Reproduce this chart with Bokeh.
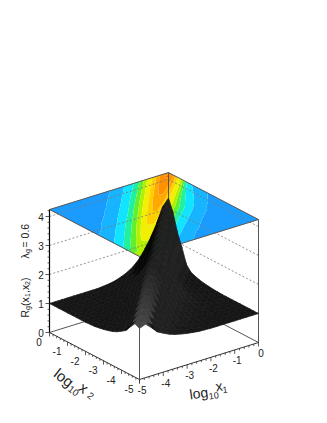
from bokeh.plotting import figure
from bokeh.embed import file_html
from bokeh.resources import INLINE
from bokeh.core.properties import value
import numpy as np

# log10 axis nodes of the surface (0.25 decade apart)
log_x = [-5 + 0.25 * i for i in range(21)]

# R_g, in two triangles about the x1 = x2 ridge.
# Right side: row j = x2 node, entry k = x1 node j+k (x1 >= x2). Beyond each row: 1.00
R_right = [
    [1.76, 1.84, 1.66, 1.45, 1.34, 1.24, 1.17, 1.12, 1.08, 1.05, 1.02, 1.01],
    [1.85, 1.74, 1.61, 1.50, 1.38, 1.26, 1.19, 1.13, 1.08, 1.05, 1.03, 1.01],
    [1.93, 1.81, 1.67, 1.54, 1.41, 1.29, 1.20, 1.13, 1.09, 1.05, 1.03, 1.01],
    [2.01, 1.88, 1.73, 1.58, 1.44, 1.31, 1.22, 1.14, 1.09, 1.06, 1.03, 1.01],
    [2.10, 1.95, 1.78, 1.62, 1.47, 1.33, 1.23, 1.15, 1.10, 1.06, 1.03, 1.02],
    [2.18, 2.02, 1.84, 1.67, 1.50, 1.35, 1.24, 1.16, 1.11, 1.06, 1.03, 1.02],
    [2.27, 2.09, 1.89, 1.71, 1.53, 1.37, 1.26, 1.17, 1.11, 1.07, 1.03, 1.02],
    [2.35, 2.16, 1.95, 1.75, 1.56, 1.39, 1.27, 1.18, 1.12, 1.07, 1.04, 1.02],
    [2.44, 2.23, 2.00, 1.80, 1.59, 1.41, 1.29, 1.19, 1.11, 1.06, 1.03, 1.01],
    [2.52, 2.30, 2.06, 1.84, 1.63, 1.43, 1.30, 1.19, 1.11, 1.06, 1.03, 1.01],
    [2.61, 2.37, 2.12, 1.88, 1.66, 1.43, 1.28, 1.17, 1.10, 1.05, 1.02],
    [2.69, 2.44, 2.17, 1.91, 1.63, 1.40, 1.25, 1.14, 1.08, 1.04],
    [2.78, 2.55, 2.20, 1.92, 1.59, 1.35, 1.22, 1.11, 1.06],
    [2.86, 2.61, 2.23, 1.92, 1.55, 1.31, 1.18, 1.09],
    [2.94, 2.67, 2.25, 1.92, 1.50, 1.26, 1.14],
    [3.03, 2.73, 2.27, 1.92, 1.46, 1.21],
    [3.11, 2.79, 2.30, 1.91, 1.39],
    [3.18, 2.85, 2.31, 1.90],
    [3.24, 2.91, 2.33],
    [3.30, 2.95],
    [3.36],
]
# Left side: row j = x1 node, entry k = x2 node j+k (x2 > x1). Beyond each row: 1.00
R_left = [
    [1.76, 1.84, 1.66, 1.45, 1.34, 1.24, 1.17, 1.12, 1.08, 1.05, 1.02, 1.01],
    [1.85, 1.78, 1.63, 1.50, 1.38, 1.26, 1.19, 1.13, 1.08, 1.05, 1.03, 1.01],
    [1.93, 1.85, 1.69, 1.54, 1.41, 1.29, 1.20, 1.13, 1.09, 1.05, 1.03, 1.01],
    [2.01, 1.93, 1.75, 1.58, 1.44, 1.31, 1.22, 1.14, 1.09, 1.06, 1.03, 1.01],
    [2.10, 2.00, 1.80, 1.62, 1.47, 1.33, 1.23, 1.15, 1.10, 1.06, 1.03, 1.02],
    [2.18, 2.08, 1.86, 1.67, 1.50, 1.35, 1.24, 1.16, 1.11, 1.06, 1.03, 1.02],
    [2.27, 2.15, 1.92, 1.71, 1.53, 1.37, 1.26, 1.17, 1.11, 1.07, 1.03, 1.02],
    [2.35, 2.23, 1.98, 1.75, 1.56, 1.39, 1.27, 1.18, 1.12, 1.07, 1.04, 1.02],
    [2.44, 2.30, 2.03, 1.80, 1.59, 1.41, 1.29, 1.19, 1.12, 1.07, 1.04, 1.02],
    [2.52, 2.38, 2.09, 1.84, 1.63, 1.43, 1.30, 1.20, 1.13, 1.08, 1.04, 1.02],
    [2.61, 2.45, 2.15, 1.88, 1.66, 1.45, 1.32, 1.21, 1.14, 1.08, 1.04],
    [2.69, 2.53, 2.21, 1.93, 1.69, 1.48, 1.33, 1.22, 1.14, 1.08],
    [2.78, 2.60, 2.26, 1.97, 1.72, 1.50, 1.34, 1.23, 1.15],
    [2.86, 2.67, 2.32, 2.01, 1.75, 1.52, 1.36, 1.24],
    [2.94, 2.75, 2.38, 2.06, 1.78, 1.54, 1.37],
    [3.03, 2.82, 2.44, 2.10, 1.81, 1.56],
    [3.11, 2.90, 2.50, 2.14, 1.85],
    [3.18, 2.97, 2.55, 2.19],
    [3.24, 3.05, 2.61],
    [3.30, 3.12],
    [3.36],
]

z_max = 4.24
z_major = [0, 1, 2, 3, 4]
z_minor = [0.2 * i for i in range(22) if i % 5]
x_major = [-5, -4, -3, -2, -1, 0]
x_minor = [-5 + 0.2 * i for i in range(26) if i % 5]
x_tick_labels = ["-5", "-4", "-3", "-2", "-1", "0"]
z_tick_labels = ["0", "1", "2", "3", "4"]

levels = [0, 1.05, 1.2, 1.4, 1.6, 1.8, 2.0, 2.3, 2.6, 2.9, 3.2, 4.0]
level_colors = ["#1a9cff", "#17b4ff", "#10e4ff", "#20f0a0", "#60f030", "#b0f000",
                "#f0f000", "#ffd000", "#ffa800", "#ff9000", "#ff7000"]

n = len(log_x)
R = np.ones((n, n))
for j, row in enumerate(R_right):
    for k, v in enumerate(row):
        R[j, j + k] = v
for j, row in enumerate(R_left):
    for k, v in enumerate(row):
        R[j + k, j] = v


def proj(x1, x2, z):
    u = (np.asarray(x1, float) + 5) / 5
    v = (np.asarray(x2, float) + 5) / 5
    return 139 + 119 * u - 90 * v, 379 - 37 * u - 47 * v - 29 * np.asarray(z, float)


p = figure(width=311, height=407, x_range=(0, 311), y_range=(407, 0),
           x_axis_type=None, y_axis_type=None, toolbar_location=None,
           output_backend="svg", min_border=0, outline_line_color=None)
p.grid.visible = False

X1, X2 = np.meshgrid(log_x, log_x)

# colour map on the top plane
PX, PY = proj(X1, X2, np.full(X1.shape, z_max))
p.contour(x=PX, y=PY, z=R, levels=levels, fill_color=level_colors, line_color=None)


def seg(pts, **kw):
    xs, ys = zip(*[proj(*q) for q in pts])
    p.line([float(a) for a in xs], [float(b) for b in ys], **kw)


# dashed wall grid
for z in z_major[1:]:
    seg([(-5, 0, z), (0, 0, z), (0, -5, z)], line_color="#777777", line_width=0.8, line_dash="2 2")

box = dict(line_color="#555555", line_width=1)
seg([(-5, 0, z_max), (0, 0, z_max), (0, -5, z_max), (-5, -5, z_max), (-5, 0, z_max)], **box)
seg([(-5, 0, 0), (0, 0, 0), (0, -5, 0)], **box)
seg([(0, 0, 0), (0, 0, z_max)], **box)
seg([(-5, -5, 0), (-5, -5, z_max)], **box)
seg([(0, -5, 0), (0, -5, z_max)], **box)

# surface, far cells first
SX, SY = proj(X1, X2, R)
cells = sorted(((i, j) for i in range(n - 1) for j in range(n - 1)), key=lambda c: -(c[0] + c[1]))
xs, ys, cols = [], [], []
for i, j in cells:
    qx = [SX[j, i], SX[j, i + 1], SX[j + 1, i + 1], SX[j + 1, i]]
    qy = [SY[j, i], SY[j, i + 1], SY[j + 1, i + 1], SY[j + 1, i]]
    area = 0.5 * ((qx[2] - qx[0]) * (qy[3] - qy[1]) - (qx[3] - qx[1]) * (qy[2] - qy[0]))
    r = abs(area) / 22.3
    g = int(np.clip(22 * r, 20, 32)) if r > 0.75 else 5
    # the mesh opens up along the front of the ridge
    if abs(i - j) <= 1 and i + j < 20:
        g = int(72 - 2.2 * (i + j))
    xs.append([float(a) for a in qx])
    ys.append([float(a) for a in qy])
    cols.append("#%02x%02x%02x" % (g, g, g))
p.patches(xs, ys, fill_color=cols, line_color=cols, line_width=0.7)

# axes
axis = dict(line_color="#333333", line_width=1)
seg([(-5, 0, 0), (-5, -5, 0), (0, -5, 0)], **axis)
seg([(-5, 0, 0), (-5, 0, z_max)], line_color="#000000", line_width=1.2)


def ticks(xa, ya, dx, dy, **kw):
    p.segment(xa, ya, np.asarray(xa) + dx, np.asarray(ya) + dy, **kw)


tick = dict(line_color="#333333", line_width=0.8)
zx, zy = proj([-5] * 5, [0] * 5, z_major)
ticks(zx, zy, -4, 0, **tick)
zx2, zy2 = proj([-5] * len(z_minor), [0] * len(z_minor), z_minor)
ticks(zx2, zy2, -2, 0, **tick)
for vals, ln in ((x_major, 4), (x_minor, 2)):
    ax, ay = proj(vals, [-5] * len(vals), [0] * len(vals))
    ticks(ax, ay, 0, ln, **tick)
    ax, ay = proj([-5] * len(vals), vals, [0] * len(vals))
    ticks(ax, ay, 0, ln, **tick)

font = value("Liberation Sans")
lab = dict(text_font=font, text_font_size="10px", text_color="#222222",
           text_align="center", text_baseline="middle")
p.text(zx - 8.5, zy + 0.5, text=z_tick_labels, **lab)
ax, ay = proj(x_major, [-5] * 6, [0] * 6)
p.text(ax + 2.5, ay + 10.5, text=x_tick_labels, **lab)
ax, ay = proj([-5] * 6, x_major, [0] * 6)
p.text(ax - 10.5, ay + 9.5, text=x_tick_labels, **lab)


def label(x, y, s, size, angle):
    p.text([x], [y], text=[s], text_font=font, text_font_size=f"{size}px", text_color="#222222",
           text_align="left", text_baseline="alphabetic", angle=angle, angle_units="deg")


# vertical titles, built up from the bottom
label(24, 258, "\u03bb", 10.5, 90)
label(26.5, 252.5, "g", 7, 90)
label(24, 247, "= 0.6", 10.5, 90)
label(24, 317, "R", 10.5, 90)
label(26.5, 309.5, "g", 7, 90)
label(24, 305.5, "(x", 10.5, 90)
label(26.5, 296.5, "1", 7, 90)
label(24, 292.5, ",x", 10.5, 90)
label(26.5, 284.5, "2", 7, 90)
label(24, 280.5, ")", 10.5, 90)

# log10 x2
label(55.6, 371, "log", 15, -38)
label(68.7, 387.4, "10", 9.5, -38)
label(80.5, 385, "x", 15, -38)
label(87.8, 394, "2", 9.5, -38)
# log10 x1
label(189, 394, "log", 14, 8)
label(208.4, 396, "10", 9, 8)
label(215, 386, "x", 14, 8)
label(222, 389.7, "1", 9, 8)

open("out.html", "w").write(file_html(p, INLINE))
